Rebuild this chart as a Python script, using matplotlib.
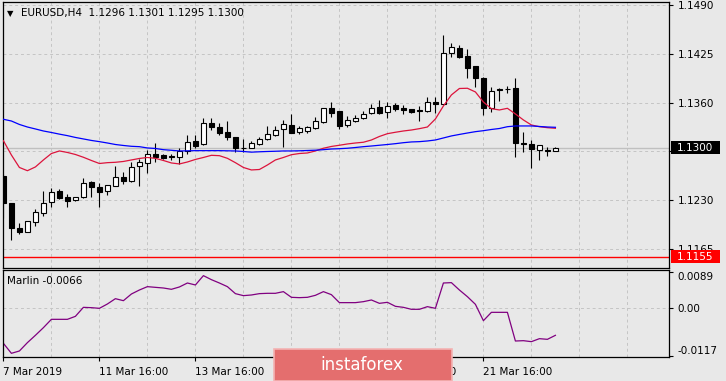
import numpy as np
import matplotlib
matplotlib.use("Agg")
import matplotlib.pyplot as plt
import matplotlib.transforms as mtransforms
from matplotlib.patches import Rectangle

# EURUSD H4 candles
opens = [1.12623, 1.12263, 1.11934, 1.11881, 1.12014, 1.12126, 1.12272, 1.12423, 1.12339, 1.12299,
         1.12339, 1.12543, 1.12472, 1.12419, 1.12490, 1.12605, 1.12552, 1.12752, 1.12792, 1.12916,
         1.12902, 1.12889, 1.12880, 1.12960, 1.13089, 1.13045, 1.13329, 1.13275, 1.13209, 1.13138,
         1.12992, 1.13000, 1.13045, 1.13112, 1.13165, 1.13245, 1.13302, 1.13213, 1.13226, 1.13258,
         1.13338, 1.13528, 1.13485, 1.13298, 1.13359, 1.13399, 1.13458, 1.13538, 1.13479, 1.13568,
         1.13524, 1.13511, 1.13498, 1.13485, 1.13608, 1.13582, 1.14257, 1.14324, 1.14221, 1.14088,
         1.13932, 1.13524, 1.13782, 1.13782, 1.13791, 1.13066, 1.13045, 1.12965, 1.12965, 1.12960]
highs = [1.12649, 1.12263, 1.11993, 1.12023, 1.12179, 1.12423, 1.12459, 1.12446, 1.12379, 1.12343,
         1.12592, 1.12556, 1.12533, 1.12499, 1.12756, 1.12672, 1.12813, 1.12845, 1.12969, 1.13066,
         1.12916, 1.12916, 1.12992, 1.13169, 1.13169, 1.13399, 1.13399, 1.13329, 1.13359, 1.13146,
         1.13116, 1.13089, 1.13146, 1.13289, 1.13289, 1.13369, 1.13449, 1.13293, 1.13293, 1.13413,
         1.13532, 1.13604, 1.13493, 1.13426, 1.13435, 1.13493, 1.13582, 1.13635, 1.13612, 1.13591,
         1.13568, 1.13511, 1.13559, 1.13679, 1.13675, 1.14501, 1.14390, 1.14368, 1.14314, 1.14088,
         1.13945, 1.13804, 1.13799, 1.13825, 1.13932, 1.13205, 1.13102, 1.13032, 1.13013, 1.13010]
lows = [1.12063, 1.11770, 1.11846, 1.11873, 1.11961, 1.12094, 1.12214, 1.12312, 1.12214, 1.12294,
        1.12334, 1.12339, 1.12214, 1.12370, 1.12490, 1.12512, 1.12543, 1.12494, 1.12669, 1.12809,
        1.12849, 1.12836, 1.12783, 1.12916, 1.13000, 1.13032, 1.13235, 1.13165, 1.13102, 1.12946,
        1.12946, 1.12992, 1.13036, 1.13102, 1.13156, 1.13005, 1.13195, 1.13178, 1.13199, 1.13249,
        1.13333, 1.13413, 1.13253, 1.13279, 1.13346, 1.13378, 1.13449, 1.13445, 1.13399, 1.13493,
        1.13445, 1.13466, 1.13359, 1.13471, 1.13462, 1.13575, 1.14212, 1.14198, 1.13932, 1.13802,
        1.13435, 1.13479, 1.13622, 1.13724, 1.12880, 1.12946, 1.12733, 1.12836, 1.12893, 1.12950]
closes = [1.12263, 1.11926, 1.11881, 1.12023, 1.12139, 1.12259, 1.12406, 1.12334, 1.12294, 1.12339,
          1.12525, 1.12480, 1.12414, 1.12499, 1.12613, 1.12560, 1.12739, 1.12805, 1.12913, 1.12876,
          1.12866, 1.12876, 1.12956, 1.13076, 1.13026, 1.13325, 1.13279, 1.13199, 1.13146, 1.12996,
          1.12996, 1.13058, 1.13112, 1.13178, 1.13231, 1.13315, 1.13199, 1.13258, 1.13271, 1.13351,
          1.13524, 1.13466, 1.13289, 1.13369, 1.13391, 1.13449, 1.13524, 1.13466, 1.13555, 1.13511,
          1.13498, 1.13479, 1.13485, 1.13604, 1.13578, 1.14257, 1.14337, 1.14208, 1.14065, 1.13932,
          1.13532, 1.13755, 1.13768, 1.13775, 1.13058, 1.13045, 1.12978, 1.13032, 1.12956, 1.13000]

# moving averages (red = fast, blue = slow)
ma_fast = [1.13093, 1.12902, 1.12736, 1.12693, 1.12743, 1.12836, 1.12922, 1.12956, 1.12936, 1.12909,
           1.12872, 1.12829, 1.12789, 1.12800, 1.12805, 1.12816, 1.12836, 1.12856, 1.12869, 1.12858,
           1.12829, 1.12796, 1.12783, 1.12809, 1.12843, 1.12869, 1.12898, 1.12893, 1.12858, 1.12800,
           1.12736, 1.12703, 1.12709, 1.12769, 1.12836, 1.12869, 1.12906, 1.12922, 1.12929, 1.12956,
           1.12992, 1.13016, 1.13032, 1.13049, 1.13062, 1.13072, 1.13102, 1.13149, 1.13186, 1.13205,
           1.13222, 1.13235, 1.13253, 1.13275, 1.13382, 1.13555, 1.13702, 1.13788, 1.13791, 1.13742,
           1.13608, 1.13519, 1.13502, 1.13524, 1.13449, 1.13369, 1.13302, 1.13279, 1.13266, 1.13258]
ma_slow = [1.13378, 1.13355, 1.13309, 1.13275, 1.13249, 1.13222, 1.13202, 1.13180, 1.13160, 1.13136,
           1.13116, 1.13096, 1.13080, 1.13062, 1.13042, 1.13029, 1.13018, 1.13013, 1.12996, 1.12989,
           1.12973, 1.12965, 1.12956, 1.12958, 1.12960, 1.12960, 1.12960, 1.12960, 1.12958, 1.12956,
           1.12949, 1.12940, 1.12945, 1.12949, 1.12952, 1.12956, 1.12956, 1.12958, 1.12962, 1.12966,
           1.12973, 1.12982, 1.12986, 1.12992, 1.13002, 1.13013, 1.13022, 1.13032, 1.13042, 1.13053,
           1.13066, 1.13076, 1.13080, 1.13089, 1.13102, 1.13129, 1.13156, 1.13176, 1.13195, 1.13213,
           1.13226, 1.13242, 1.13255, 1.13279, 1.13289, 1.13289, 1.13289, 1.13282, 1.13275, 1.13271]

# Marlin oscillator
marlin = [-0.00856, -0.01100, -0.01043, -0.00839, -0.00660, -0.00473, -0.00269, -0.00269, -0.00269, -0.00196,
          0.00024, 0.00016, 0.00000, 0.00106, 0.00236, 0.00187, 0.00350, 0.00448, 0.00530, 0.00513,
          0.00497, 0.00465, 0.00522, 0.00619, 0.00571, 0.00799, 0.00701, 0.00619, 0.00530, 0.00359,
          0.00310, 0.00326, 0.00359, 0.00367, 0.00367, 0.00408, 0.00269, 0.00261, 0.00269, 0.00318,
          0.00408, 0.00334, 0.00139, 0.00139, 0.00139, 0.00163, 0.00204, 0.00122, 0.00147, 0.00049,
          0.00024, -0.00024, -0.00024, 0.00041, 0.00000, 0.00619, 0.00628, 0.00448, 0.00285, 0.00098,
          -0.00302, -0.00098, -0.00098, -0.00098, -0.00799, -0.00791, -0.00815, -0.00742, -0.00758, -0.00660]

price_ticks = [1.1490, 1.1425, 1.1360, 1.1295, 1.1230, 1.1165]
# 1.1295 sits behind the last-price box, so no text for it
price_tick_labels = ["1.1490", "1.1425", "1.1360", "", "1.1230", "1.1165"]
marlin_ticks = [0.0089, 0.0, -0.0117]
marlin_tick_labels = ["0.0089", "0.00", "-0.0117"]
date_bars = [0, 12, 24, 36, 48, 60]
# 15 Mar label is fully under the watermark
date_labels = ["7 Mar 2019", "11 Mar 16:00", "13 Mar 16:00", "", "19 Mar 16:00", "21 Mar 16:00"]
support = 1.1155
last_price = 1.1300

bg = "#e8e8e8"
grid_kw = dict(color="#c4c4c4", linestyle=(0, (3, 3)), linewidth=0.7)
W, H = 726, 381

fig = plt.figure(figsize=(W / 100, H / 100), dpi=100, facecolor=bg)
ax = fig.add_axes([3 / W, 1 - 268 / H, 666 / W, 266 / H], facecolor=bg)
ax2 = fig.add_axes([3 / W, 1 - 357 / H, 666 / W, 87 / H], facecolor=bg)

x = np.arange(len(opens))
o = np.array(opens)
c = np.array(closes)
up = c >= o

# grid first
for gx in range(6, 84, 6):
    ax.axvline(gx, zorder=0, **grid_kw)
    ax2.axvline(gx, zorder=0, **grid_kw)
for gy in price_ticks:
    ax.axhline(gy, zorder=0, **grid_kw)
ax2.axhline(0, zorder=0, **grid_kw)

ax.axhline(last_price, color="#c0c0c0", lw=1.0, zorder=1)
ax.axhline(support, color="#ff0000", lw=1.0, zorder=1)

# candles
ax.vlines(x, lows, highs, color="black", lw=0.8, zorder=2)
ax.bar(x, np.maximum(np.abs(c - o), 0.000005), bottom=np.minimum(o, c), width=0.6,
       color=np.where(up, "white", "black"), edgecolor="black", linewidth=0.8, zorder=3)

ax.plot(x, ma_fast, color="#dc143c", lw=0.9, zorder=4)
ax.plot(x, ma_slow, color="#0000ff", lw=0.9, zorder=4)

ax.set_xlim(-0.05, 83.2)
ax.set_ylim(1.11397, 1.14940)
ax.set_xticks([])
ax.yaxis.tick_right()
ax.set_yticks(price_ticks)
ax.set_yticklabels(price_tick_labels)
ax.tick_params(axis="y", length=3, width=0.8, pad=3, labelsize=7.5, colors="black")

# price boxes on the right axis
bt = mtransforms.blended_transform_factory(ax.transAxes, ax.transData)
box_h = 0.00173
for val, col in [(last_price, "black"), (support, "#ff0000")]:
    ax.add_patch(Rectangle((1.003, val - box_h / 2), 0.074, box_h, transform=bt,
                           facecolor=col, edgecolor="none", clip_on=False, zorder=6))
    ax.text(1.012, val, "%.4f" % val, transform=bt, color="white", fontsize=7.5,
            va="center", ha="left", zorder=7, clip_on=False)

ax.text(0.006, 0.958, "\u25bc", transform=ax.transAxes, fontsize=6, va="center", ha="left")
ax.text(0.027, 0.958, "EURUSD,H4  1.1296 1.1301 1.1295 1.1300", transform=ax.transAxes,
        fontsize=7.5, va="center", ha="left")

# Marlin panel
ax2.plot(x, marlin, color="#800080", lw=0.9)
ax2.set_xlim(-0.05, 83.2)
ax2.set_ylim(-0.0119, 0.00937)
ax2.yaxis.tick_right()
ax2.set_yticks(marlin_ticks)
ax2.set_yticklabels(marlin_tick_labels)
ax2.tick_params(axis="y", length=3, width=0.8, pad=3, labelsize=7.5)
lbls = ax2.get_yticklabels()
lbls[0].set_va("top")
lbls[2].set_va("bottom")
ax2.set_xticks(date_bars)
ax2.set_xticklabels(date_labels, ha="left")
ax2.tick_params(axis="x", length=3, width=0.8, pad=4, labelsize=7.5)
ax2.text(0.006, 0.87, "Marlin -0.0066", transform=ax2.transAxes, fontsize=7.5, va="center", ha="left")

for a in (ax, ax2):
    for s in a.spines.values():
        s.set_linewidth(0.9)
        s.set_color("black")

# watermark
fig.add_artist(Rectangle((274 / W, 0), 178 / W, 32 / H, transform=fig.transFigure,
                         facecolor="#e46e6e", edgecolor="#f3b3b3", lw=1.2, zorder=10))
fig.text(362 / W, 1 - 365 / H, "instaforex", color="white", fontsize=12,
         ha="center", va="center", zorder=11)

fig.savefig("out.png", dpi=100, facecolor=bg)
